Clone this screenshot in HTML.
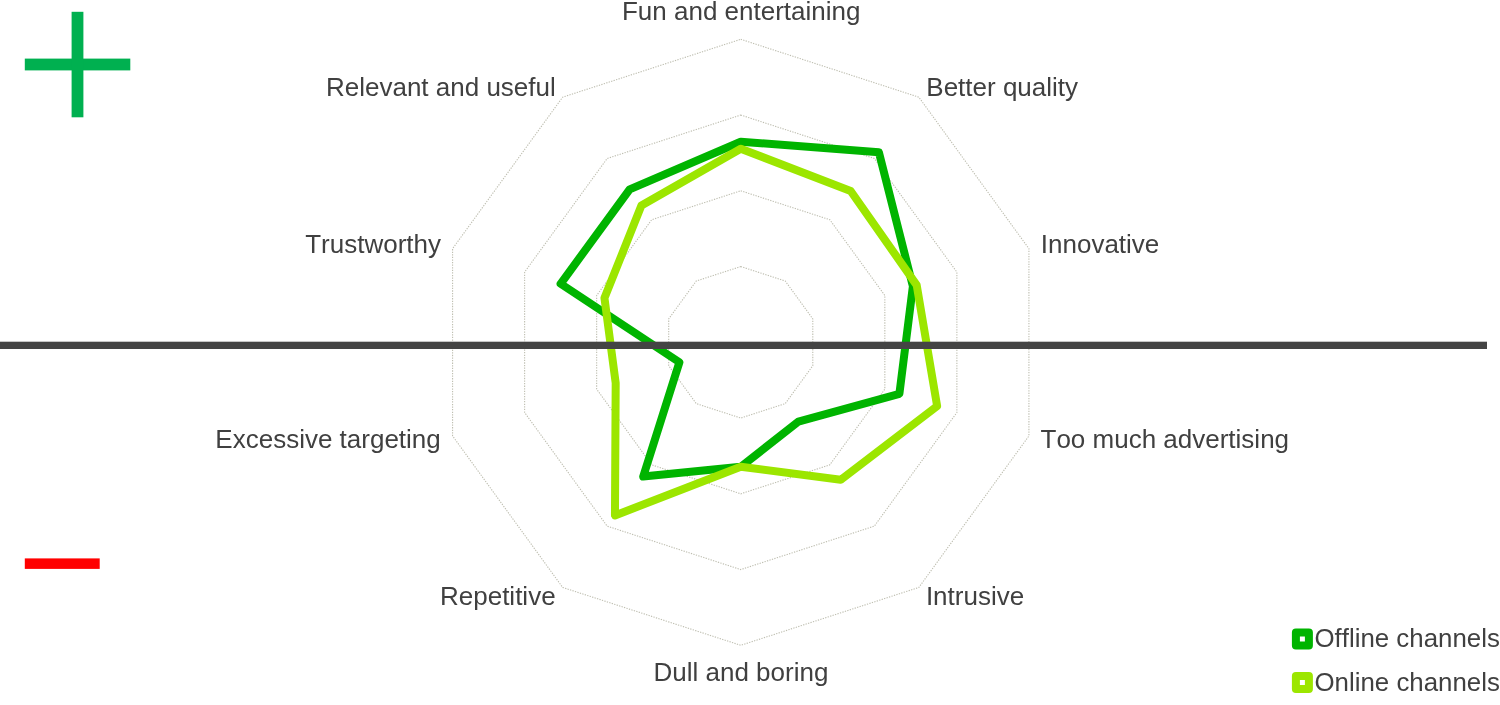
<!DOCTYPE html>
<html lang="en"><head><meta charset="utf-8"><title>Radar chart</title>
<style>
html,body{margin:0;padding:0;background:#fff;}
body{width:1500px;height:705px;overflow:hidden;position:relative;}
svg{position:absolute;left:0;top:0;display:block;}
text{font-kerning:none;font-family:"Liberation Sans",Arial,sans-serif;font-size:26px;fill:#404040;}
</style></head><body>
<svg width="1500" height="705" viewBox="0 0 1500 705">
<g fill="none" stroke="#bebeb0" stroke-width="1.1" stroke-dasharray="1.29 1.29"><polygon points="740.75,266.55 785.27,281.02 812.79,318.89 812.79,365.71 785.27,403.58 740.75,418.05 696.23,403.58 668.71,365.71 668.71,318.89 696.23,281.02"/><polygon points="740.75,190.80 829.80,219.73 884.84,295.48 884.84,389.12 829.80,464.87 740.75,493.80 651.70,464.87 596.66,389.12 596.66,295.48 651.70,219.73"/><polygon points="740.75,115.05 874.32,158.45 956.88,272.08 956.88,412.52 874.32,526.15 740.75,569.55 607.18,526.15 524.62,412.52 524.62,272.08 607.18,158.45"/><polygon points="740.75,39.30 918.85,97.17 1028.92,248.67 1028.92,435.93 918.85,587.43 740.75,645.30 562.65,587.43 452.58,435.93 452.58,248.67 562.65,97.17"/></g>
<polygon points="740.75,141.70 878.88,152.18 912.89,286.37 899.39,393.84 798.35,421.58 740.75,466.80 643.18,476.60 679.41,362.23 560.62,283.77 629.66,189.40" fill="none" stroke="#00b400" stroke-width="8" stroke-linejoin="round"/>
<polygon points="740.75,148.70 850.67,191.01 916.70,285.13 937.14,406.11 840.67,479.83 740.75,466.80 614.96,515.43 615.69,382.94 604.46,298.02 641.41,205.58" fill="none" stroke="#9ce600" stroke-width="8" stroke-linejoin="round"/>
<rect x="0" y="341.7" width="1487" height="7.3" fill="#444444"/>
<rect x="24.8" y="58.6" width="105.5" height="11.8" fill="#00b050"/>
<rect x="71.6" y="11.8" width="11.8" height="105.5" fill="#00b050"/>
<rect x="24.8" y="558.4" width="74.9" height="10.5" fill="#ff0000"/>
<g><text x="741.2" y="20.0" text-anchor="middle">Fun and entertaining</text><text x="926.3" y="95.5" text-anchor="start">Better quality</text><text x="1040.8" y="253.0" text-anchor="start">Innovative</text><text x="1040.5" y="448.0" text-anchor="start">Too much advertising</text><text x="925.9" y="605.0" text-anchor="start">Intrusive</text><text x="740.9" y="681.0" text-anchor="middle">Dull and boring</text><text x="555.6" y="605.0" text-anchor="end">Repetitive</text><text x="440.8" y="448.0" text-anchor="end">Excessive targeting</text><text x="441.0" y="253.0" text-anchor="end">Trustworthy</text><text x="555.8" y="95.5" text-anchor="end">Relevant and useful</text></g>
<rect x="1295.9" y="632.5" width="13" height="13" fill="none" stroke="#00b400" stroke-width="8" stroke-linejoin="round"/>
<rect x="1295.9" y="676.1" width="13" height="13" fill="none" stroke="#9ce600" stroke-width="8" stroke-linejoin="round"/>
<text x="1314.5" y="647" style="font-size:25.85px">Offline channels</text>
<text x="1314.5" y="691" style="font-size:25.85px">Online channels</text>
</svg>
</body></html>
